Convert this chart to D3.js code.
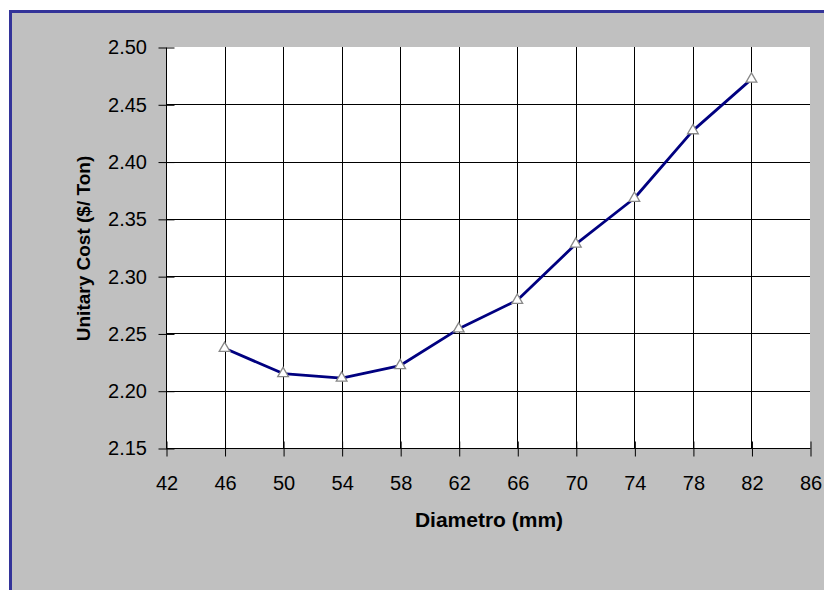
<!DOCTYPE html>
<html><head><meta charset="utf-8">
<script src="https://cdn.jsdelivr.net/npm/d3@7"></script>
<style>html,body{margin:0;padding:0;background:#fff;}svg{display:block;}</style>
</head><body>
<svg id="chart" width="824" height="590"></svg>
<script>
const diameters = [46, 50, 54, 58, 62, 66, 70, 74, 78, 82];
const unitaryCost = [2.237, 2.215, 2.211, 2.222, 2.254, 2.279, 2.328, 2.368, 2.427, 2.472];
const xTicks = [42, 46, 50, 54, 58, 62, 66, 70, 74, 78, 82, 86];
const yTicks = [2.15, 2.20, 2.25, 2.30, 2.35, 2.40, 2.45, 2.50];
const xTitle = "Diametro (mm)";
const yTitle = "Unitary Cost ($/ Ton)";

const svg = d3.select("#chart");
// frame
svg.append("rect").attr("x", 0).attr("y", 0).attr("width", 824).attr("height", 590).attr("fill", "#fff");
svg.append("rect").attr("x", 10.5).attr("y", 11.5).attr("width", 830).attr("height", 600)
  .attr("fill", "#c0c0c0").attr("stroke", "#333399").attr("stroke-width", 3);

const L = 166, R = 810, T = 47, B = 448;
const x = d3.scaleLinear().domain([42, 86]).range([L, R]);
const y = d3.scaleLinear().domain([2.15, 2.50]).range([B, T]);

svg.append("rect").attr("x", L).attr("y", T).attr("width", R - L).attr("height", B - T).attr("fill", "#fff");

// gridlines
svg.append("g").selectAll("line").data(xTicks.filter(d => d > 42 && d < 86)).join("line")
  .attr("x1", d => Math.round(x(d)) + 0.5).attr("x2", d => Math.round(x(d)) + 0.5)
  .attr("y1", T).attr("y2", B).attr("stroke", "#000").attr("stroke-width", 1);
svg.append("g").selectAll("line").data(yTicks.filter(d => d > 2.151 && d < 2.499)).join("line")
  .attr("y1", d => Math.round(y(d)) + 0.5).attr("y2", d => Math.round(y(d)) + 0.5)
  .attr("x1", L).attr("x2", R).attr("stroke", "#000").attr("stroke-width", 1);

// axes
const font = "'Liberation Sans', Arial, sans-serif";
const xAxis = svg.append("g").attr("transform", `translate(0.5,${B + 0.5})`)
  .call(d3.axisBottom(x).tickValues(xTicks).tickFormat(d3.format("d")).tickSize(8).tickPadding(19));
xAxis.selectAll(".tick line").attr("y1", -7);
const yAxis = svg.append("g").attr("transform", `translate(${L + 0.5},0.5)`)
  .call(d3.axisLeft(y).tickValues(yTicks).tickFormat(d3.format(".2f")).tickSize(8).tickPadding(11.5));
yAxis.selectAll(".tick line").attr("x1", 8);
[xAxis, yAxis].forEach(a => {
  a.select(".domain").attr("stroke", "#000");
  a.selectAll(".tick line").attr("stroke", "#000");
  a.selectAll("text").attr("font-family", font).attr("font-size", 20).attr("fill", "#000");
});
xAxis.select(".domain").attr("d", `M${L},0H${R}`);
yAxis.select(".domain").attr("d", `M0,${T}V${B}`);

// line
const line = d3.line().x((d, i) => x(diameters[i])).y(d => y(d));
svg.append("path").datum(unitaryCost).attr("d", line).attr("fill", "none")
  .attr("stroke", "#000080").attr("stroke-width", 2.8).attr("stroke-linejoin", "round");

// markers
const tri = d3.symbol().type(d3.symbolTriangle).size(50);
svg.append("g").selectAll("path").data(unitaryCost).join("path")
  .attr("d", tri)
  .attr("transform", (d, i) => `translate(${x(diameters[i])},${y(d)})`)
  .attr("fill", "#fff").attr("stroke", "#888").attr("stroke-width", 1.3);

// titles
svg.append("text").attr("x", 489).attr("y", 527).attr("text-anchor", "middle")
  .attr("font-family", font).attr("font-weight", "bold").attr("font-size", 21).text(xTitle);
svg.append("text").attr("transform", "translate(90,248.5) rotate(-90)").attr("text-anchor", "middle")
  .attr("font-family", font).attr("font-weight", "bold").attr("font-size", 19).text(yTitle);
</script>
</body></html>
